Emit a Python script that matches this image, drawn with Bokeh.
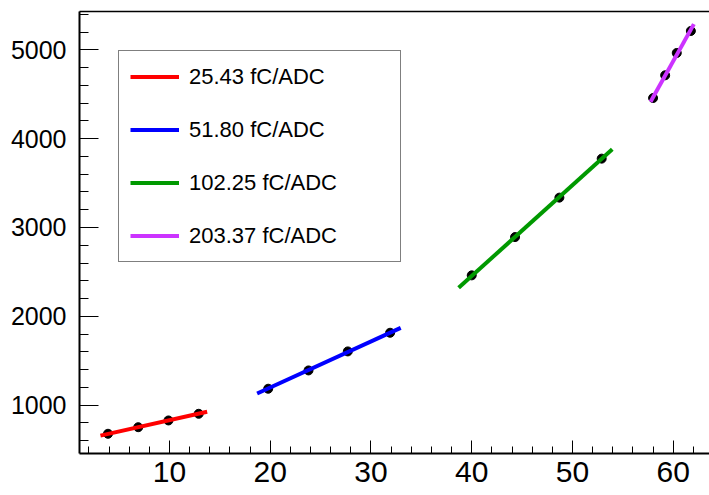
from bokeh.plotting import figure
from bokeh.models import Range1d, SingleIntervalTicker, FixedTicker, LinearAxis, Legend, LegendItem
from bokeh.embed import file_html
from bokeh.resources import INLINE

# ---- data ----
red_x = [3.9, 6.9, 9.9, 12.9]
red_y = [678, 752, 828, 903]
blue_x = [19.8, 23.8, 27.7, 31.9]
blue_y = [1185, 1391, 1605, 1815]
green_x = [40.0, 44.3, 48.7, 52.9]
green_y = [2461, 2892, 3336, 3775]
violet_x = [58.0, 59.2, 60.35, 61.75]
violet_y = [4457, 4713, 4964, 5212]

fit_slopes = [25.43, 51.80, 102.25, 203.37]
fit_intercepts = [576.6, 162.6, -1636.0, -7330.0]
fit_ranges = [[3.15, 13.74], [18.7, 32.95], [38.7, 53.95], [57.75, 62.05]]
fit_labels = ["25.43 fC/ADC", "51.80 fC/ADC", "102.25 fC/ADC", "203.37 fC/ADC"]
fit_colors = ["#ff0000", "#0000ff", "#009900", "#cc33ff"]

FONT = "Liberation Sans"

p = figure(width=709, height=495, output_backend="svg", toolbar_location=None,
           x_range=Range1d(1.07, 63.6), y_range=Range1d(456, 5431),
           min_border_left=79, min_border_right=0, min_border_top=11, min_border_bottom=42)
p.outline_line_color = None
p.grid.visible = False
p.background_fill_color = "white"
p.border_fill_color = "white"

# x axis
xa = p.xaxis[0]
xa.ticker = SingleIntervalTicker(interval=10, num_minor_ticks=5)
xa.axis_line_width = 2
xa.axis_line_color = "black"
xa.major_tick_in = 13
xa.major_tick_out = 0
xa.minor_tick_in = 7
xa.minor_tick_out = 0
xa.major_tick_line_color = "black"
xa.minor_tick_line_color = "black"
xa.major_label_text_font = FONT
xa.major_label_text_font_size = "30px"
xa.major_label_text_color = "black"
xa.major_label_standoff = 8

# y axis
ya = p.yaxis[0]
ya.ticker = SingleIntervalTicker(interval=1000, num_minor_ticks=5)
ya.axis_line_width = 2
ya.axis_line_color = "black"
ya.major_tick_in = 19
ya.major_tick_out = 0
ya.minor_tick_in = 9
ya.minor_tick_out = 0
ya.major_tick_line_color = "black"
ya.minor_tick_line_color = "black"
ya.major_label_text_font = FONT
ya.major_label_text_font_size = "25px"
ya.major_label_text_color = "black"
ya.major_label_standoff = 13

# top frame line
top = LinearAxis(ticker=FixedTicker(ticks=[]), axis_line_width=1.5, axis_line_color="black",
                 major_tick_in=0, major_tick_out=0, minor_tick_in=0, minor_tick_out=0,
                 major_label_standoff=0, major_label_text_font_size="0px")
p.add_layout(top, "above")

# points
for xs, ys in [(red_x, red_y), (blue_x, blue_y), (green_x, green_y), (violet_x, violet_y)]:
    p.scatter(xs, ys, size=9, color="black")

# fit lines
items = []
for m, b, rng, lab, col in zip(fit_slopes, fit_intercepts, fit_ranges, fit_labels, fit_colors):
    ys = [m * x + b for x in rng]
    r = p.line(rng, ys, line_color=col, line_width=4)
    items.append(LegendItem(label=lab, renderers=[r]))

legend = Legend(items=items, location="top_left", margin=39, padding=11,
                glyph_width=49, glyph_height=29, label_height=29, label_width=200,
                label_standoff=10, spacing=24,
                label_text_font=FONT, label_text_font_size="22px", label_text_color="black",
                border_line_color="black", border_line_width=1,
                background_fill_color="white", background_fill_alpha=1.0)
p.add_layout(legend, "center")

open("out.html", "w").write(file_html(p, INLINE))
